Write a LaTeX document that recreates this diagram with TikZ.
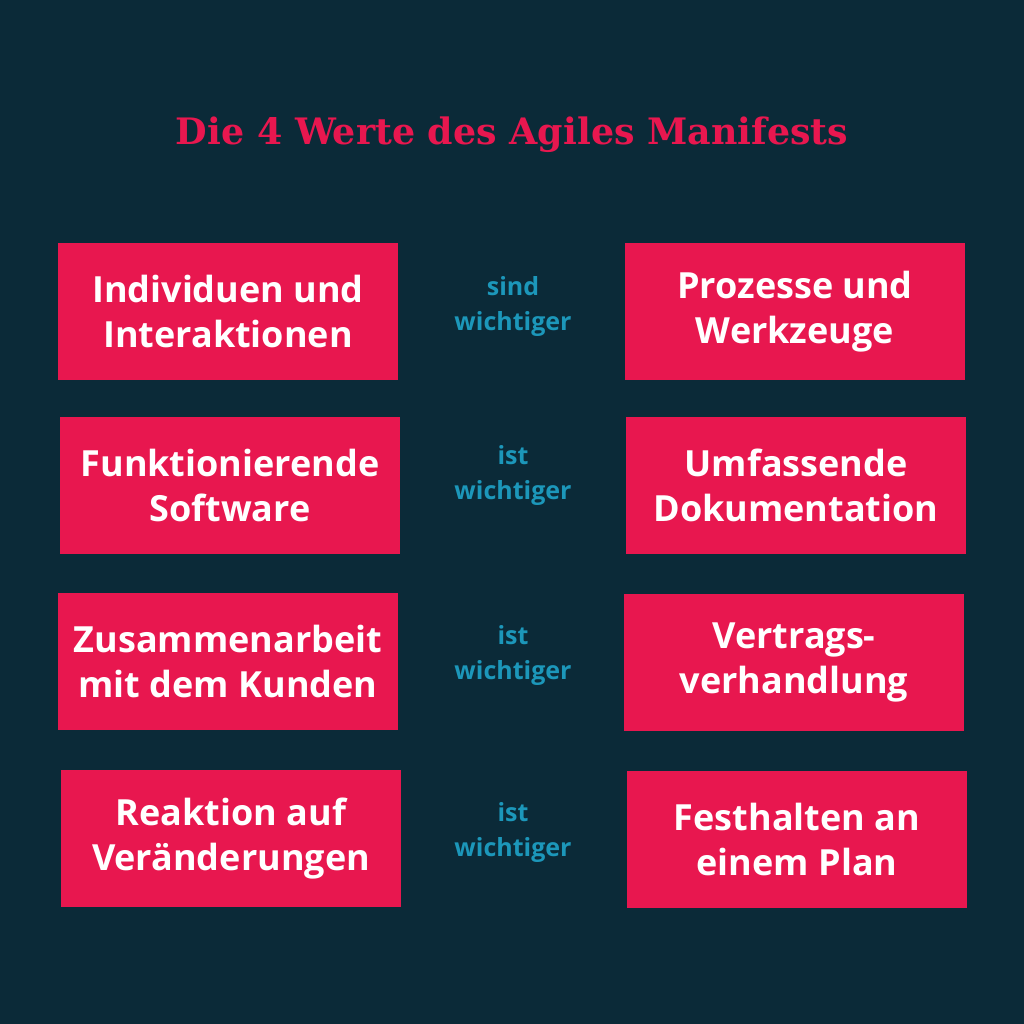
\documentclass[tikz,border=0pt]{standalone}
\usepackage{fontspec}
\setmainfont{Open Sans}
\newfontfamily\titlefont{DejaVu Serif}
\usepackage{tikz}
\definecolor{bgblue}{HTML}{0B2A38}
\definecolor{agred}{HTML}{E8174F}
\definecolor{agteal}{HTML}{1C97BA}

\begin{document}
\begin{tikzpicture}[x=1pt, y=-1pt,
        wert/.style={fill=agred, text=white, minimum width=340pt, minimum height=137pt, inner sep=0, align=center, font=\bfseries\fontsize{36}{45}\selectfont},
        vgl/.style={text=agteal, align=center, font=\bfseries\fontsize{25}{35}\selectfont}]
        \fill[bgblue] (0,0) rectangle (1024,1024);
        \useasboundingbox (0,0) rectangle (1024,1024);
        \node[text=agred, font=\titlefont\bfseries\fontsize{36.4}{42}\selectfont] (titel) at (512,135) {Die 4 Werte des Agiles Manifests};
        % Zeile 1
        \node[wert] (w1l) at (228,311.5) {Individuen und\\Interaktionen};
        \node[vgl] (w1m) at (513,307) {sind\\wichtiger};
        \node[wert] (w1r) at (795,311.5) {Prozesse und\\Werkzeuge};
        % Zeile 2
        \node[wert] (w2l) at (230,485) {Funktionierende\\Software};
        \node[vgl] (w2m) at (513,476) {ist\\wichtiger};
        \node[wert] (w2r) at (796,485) {Umfassende\\Dokumentation};
        % Zeile 3
        \node[wert] (w3l) at (228,661.5) {Zusammenarbeit\\mit dem Kunden};
        \node[vgl] (w3m) at (513,655) {ist\\wichtiger};
        \node[wert] (w3r) at (794,662) {Vertrags-\\verhandlung};
        % Zeile 4
        \node[wert] (w4l) at (231,838.5) {Reaktion auf\\Veränderungen};
        \node[vgl] (w4m) at (513,832) {ist\\wichtiger};
        \node[wert] (w4r) at (797,839) {Festhalten an\\einem Plan};
    \end{tikzpicture}
\end{document}
